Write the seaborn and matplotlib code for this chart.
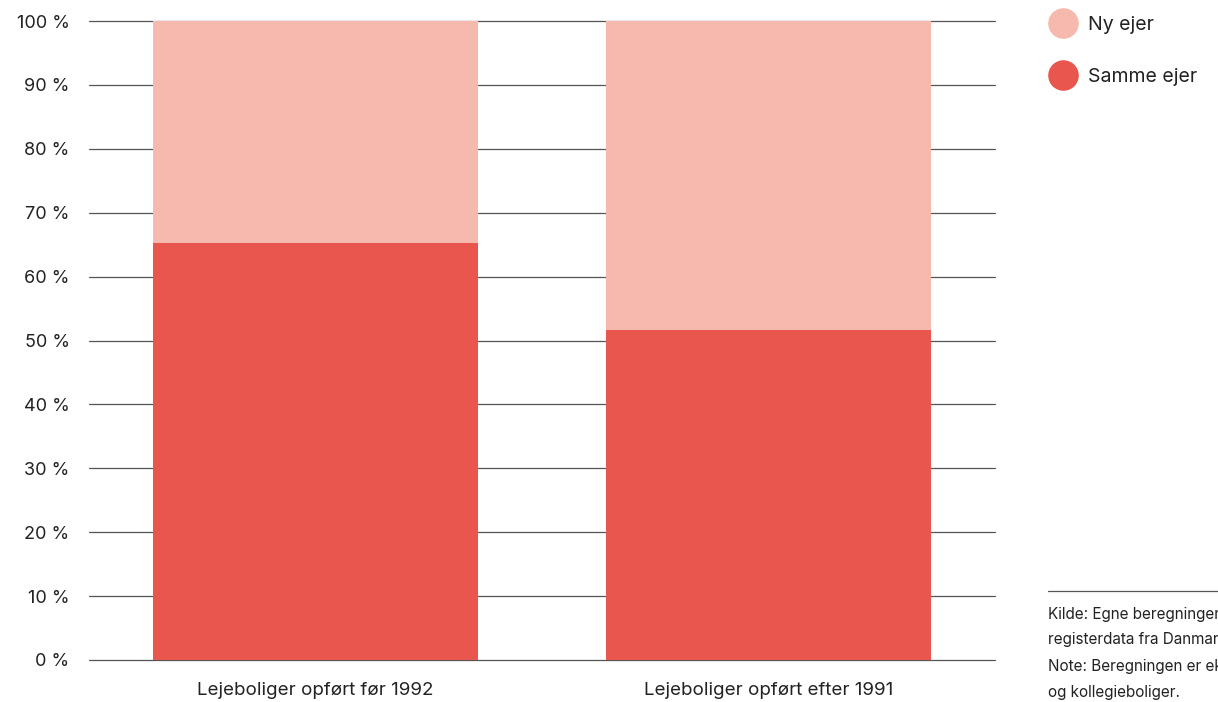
import matplotlib
matplotlib.use("Agg")
import matplotlib.pyplot as plt
import seaborn as sns
import pandas as pd
from matplotlib.lines import Line2D

categories = ["Lejeboliger opført før 1992", "Lejeboliger opført efter 1991"]
samme_ejer = [65.3, 51.6]
ny_ejer = [34.7, 48.4]
yticks = [0, 10, 20, 30, 40, 50, 60, 70, 80, 90, 100]
legend_labels = ["Ny ejer", "Samme ejer"]
note_lines = ["Kilde: Egne beregninger på baggrund af",
              "registerdata fra Danmarks Statistik.",
              "Note: Beregningen er eksklusiv almene boliger",
              "og kollegieboliger."]

light = "#F6B9AD"
dark = "#E9564E"

sns.set_theme(style="white")
plt.rcParams["font.family"] = ["Inter", "DejaVu Sans"]

df = pd.DataFrame({"cat": categories,
                   "samme": samme_ejer,
                   "total": [s + n for s, n in zip(samme_ejer, ny_ejer)]})

fig = plt.figure(figsize=(12.18, 7.02), dpi=100)
ax = fig.add_axes([89/1218, 1-660/702, (995-89)/1218, (660-21)/702])

for y in yticks:
    ax.axhline(y, color="#555555", lw=0.9, zorder=0, clip_on=False)

sns.barplot(data=df, x="cat", y="total", color=light, width=0.718,
            saturation=1, ax=ax, zorder=2, linewidth=0, edgecolor="none")
sns.barplot(data=df, x="cat", y="samme", color=dark, width=0.718,
            saturation=1, ax=ax, zorder=3, linewidth=0, edgecolor="none")

ax.set_xlim(-0.5, 1.5)
ax.set_ylim(0, 100)
ax.set_yticks(yticks)
ax.set_yticklabels([f"{v} %" for v in yticks])
ax.set_xlabel("")
ax.set_ylabel("")
for s in ax.spines.values():
    s.set_visible(False)
ax.tick_params(axis="y", length=0, pad=14, labelsize=13, colors="#222222")
ax.tick_params(axis="x", length=0, pad=16, labelsize=13.5, colors="#222222")

# legend
handles = [Line2D([0], [0], marker="o", color="none", markerfacecolor=c,
                  markeredgecolor=c, markersize=21) for c in [light, dark]]
leg = fig.legend(handles, legend_labels, loc="upper left",
                 bbox_to_anchor=(1042/1218, 1-8/702), frameon=False,
                 fontsize=14, labelspacing=1.75, handletextpad=0.55,
                 handlelength=1.4, borderaxespad=0)
for t in leg.get_texts():
    t.set_color("#222222")

# footer line & notes
fig.add_artist(Line2D([1048/1218, 1.0], [1-591/702, 1-591/702],
                      transform=fig.transFigure, color="#555555", lw=0.9))
for i, line in enumerate(note_lines):
    fig.text(1048/1218, 1-(613+26.5*i)/702, line, fontsize=11,
             color="#222222", va="center", ha="left")

fig.savefig("out.png", dpi=100)
